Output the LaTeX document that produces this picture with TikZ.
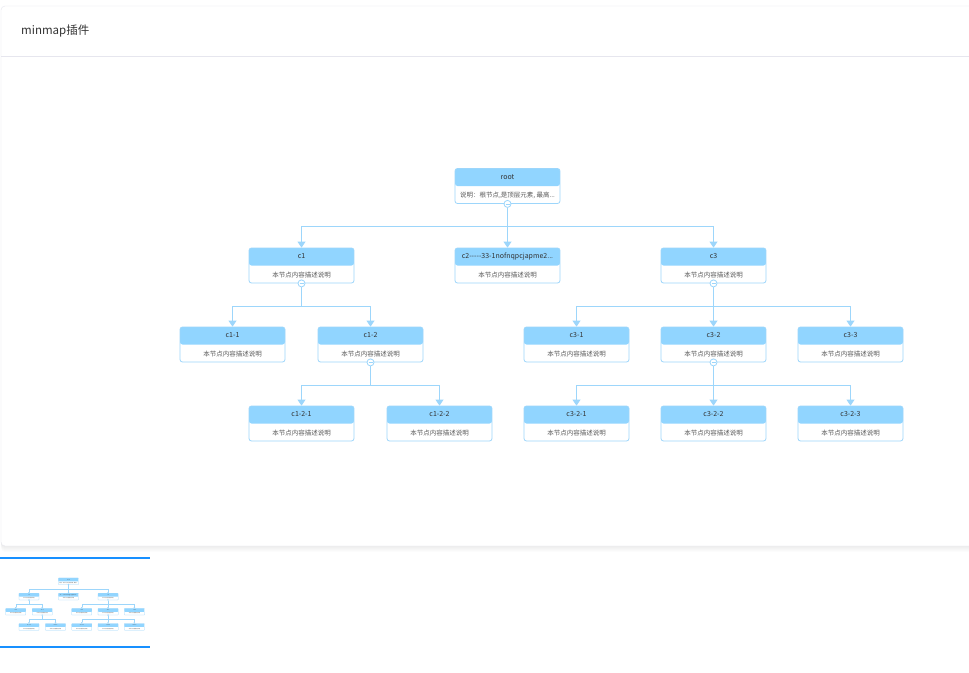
\documentclass[tikz,border=0pt]{standalone}
\usepackage{fontspec}
\setmainfont{Noto Sans CJK SC}[Ligatures=TeXOff]
\usetikzlibrary{arrows.meta}
\definecolor{mmhead}{HTML}{91D5FF}
\definecolor{mmline}{HTML}{9DD6FB}
\definecolor{mmtext}{HTML}{333333}
\definecolor{mmgray}{HTML}{595959}
\definecolor{mmcard}{HTML}{E6E6EE}
\definecolor{mmview}{HTML}{1890FF}

% the tree is drawn twice: once full size, once in the minimap
\newcommand\mmtree{%
  \node[mmbox,label={[mmtitle]north:root},label={[mmdesc]south:{说明：根节点,是顶层元素, 最高...}}] (root) at (507.5,186) {};
  \node[mmbox,label={[mmtitle]north:c1},label={[mmdesc]south:本节点内容描述说明}] (c1) at (301.5,265.5) {};
  \node[mmbox,label={[mmtitle]north:c2-----33-1nofnqpcjapme2...},label={[mmdesc]south:本节点内容描述说明}] (c2) at (507.5,265.5) {};
  \node[mmbox,label={[mmtitle]north:c3},label={[mmdesc]south:本节点内容描述说明}] (c3) at (713.5,265.5) {};
  \node[mmbox,label={[mmtitle]north:c1-1},label={[mmdesc]south:本节点内容描述说明}] (c11) at (232.5,344.5) {};
  \node[mmbox,label={[mmtitle]north:c1-2},label={[mmdesc]south:本节点内容描述说明}] (c12) at (370.5,344.5) {};
  \node[mmbox,label={[mmtitle]north:c3-1},label={[mmdesc]south:本节点内容描述说明}] (c31) at (576.5,344.5) {};
  \node[mmbox,label={[mmtitle]north:c3-2},label={[mmdesc]south:本节点内容描述说明}] (c32) at (713.5,344.5) {};
  \node[mmbox,label={[mmtitle]north:c3-3},label={[mmdesc]south:本节点内容描述说明}] (c33) at (850.5,344.5) {};
  \node[mmbox,label={[mmtitle]north:c1-2-1},label={[mmdesc]south:本节点内容描述说明}] (c121) at (301.5,423.5) {};
  \node[mmbox,label={[mmtitle]north:c1-2-2},label={[mmdesc]south:本节点内容描述说明}] (c122) at (439.5,423.5) {};
  \node[mmbox,label={[mmtitle]north:c3-2-1},label={[mmdesc]south:本节点内容描述说明}] (c321) at (576.5,423.5) {};
  \node[mmbox,label={[mmtitle]north:c3-2-2},label={[mmdesc]south:本节点内容描述说明}] (c322) at (713.5,423.5) {};
  \node[mmbox,label={[mmtitle]north:c3-2-3},label={[mmdesc]south:本节点内容描述说明}] (c323) at (850.5,423.5) {};
  % collapse buttons
  \node[mmdot] (root-o) at (root.south) {};
  \node[mmdot] (c1-o) at (c1.south) {};
  \node[mmdot] (c3-o) at (c3.south) {};
  \node[mmdot] (c12-o) at (c12.south) {};
  \node[mmdot] (c32-o) at (c32.south) {};
  % edges
  \draw[mmedge] (root-o.south) -- ++(0,19) -| (c1.north);
  \draw[mmedge] (root-o.south) -- ++(0,19) -| (c2.north);
  \draw[mmedge] (root-o.south) -- ++(0,19) -| (c3.north);
  \draw[mmedge] (c1-o.south) -- ++(0,19) -| (c11.north);
  \draw[mmedge] (c1-o.south) -- ++(0,19) -| (c12.north);
  \draw[mmedge] (c3-o.south) -- ++(0,19) -| (c31.north);
  \draw[mmedge] (c3-o.south) -- ++(0,19) -| (c32.north);
  \draw[mmedge] (c3-o.south) -- ++(0,19) -| (c33.north);
  \draw[mmedge] (c12-o.south) -- ++(0,19) -| (c121.north);
  \draw[mmedge] (c12-o.south) -- ++(0,19) -| (c122.north);
  \draw[mmedge] (c32-o.south) -- ++(0,19) -| (c321.north);
  \draw[mmedge] (c32-o.south) -- ++(0,19) -| (c322.north);
  \draw[mmedge] (c32-o.south) -- ++(0,19) -| (c323.north);
}

\begin{document}
\begin{tikzpicture}[x=1pt,y=-1pt,
  mmbox/.style={draw=mmline,line width=0.8pt,rounded corners=2.5pt,fill=white,
    minimum width=105pt,minimum height=35pt,inner sep=0pt,
    path picture={\fill[mmhead] (path picture bounding box.north west) rectangle (path picture bounding box.east);}},
  mmtitle/.style={anchor=center,yshift=-8.75pt,inner sep=0pt,text=mmtext,font=\fontsize{7}{8}\selectfont},
  mmdesc/.style={anchor=center,yshift=8.75pt,inner sep=0pt,text=mmgray,font=\fontsize{6.5}{8}\selectfont},
  mmdot/.style={circle,draw=mmline,line width=0.8pt,fill=white,minimum size=7pt,inner sep=0pt,
    path picture={\draw[mmline,line width=0.6pt] ([xshift=-2pt]path picture bounding box.center) -- ([xshift=2pt]path picture bounding box.center);}},
  mmedge/.style={draw=mmline,line width=0.8pt,-{Triangle[length=6pt,width=8pt]}}]
  \useasboundingbox (0,0) rectangle (969,672);
  \fill[white] (0,0) rectangle (969,672);

  % card with soft shadow
  \foreach \s in {1,...,6}
    \fill[black,opacity=0.012,rounded corners=4pt] (1,{6+\s}) rectangle (990,{546+\s});
  \draw[mmcard,fill=white,rounded corners=4pt] (1,6) rectangle (990,546);
  \draw[mmcard] (1,56) -- (969,56);
  \node[anchor=west,inner sep=0pt,text=mmtext,font=\fontsize{11.5}{14}\selectfont] (title) at (21,31) {minmap插件};

  \mmtree

  % minimap
  \begin{scope}[shift={(-28.9,545.6)},scale=0.192,transform shape,name prefix=mini-,
    mmbox/.append style={line width=0.25pt,rounded corners=0.5pt},
    mmdot/.append style={line width=0.25pt},
    mmedge/.append style={line width=0.25pt,-{Triangle[length=1.2pt,width=1.6pt]}}]
    \mmtree
  \end{scope}
  \draw[mmview,line width=2pt] (0,558) -- (150,558);
  \draw[mmview,line width=2pt] (0,647) -- (150,647);
\end{tikzpicture}
\end{document}
